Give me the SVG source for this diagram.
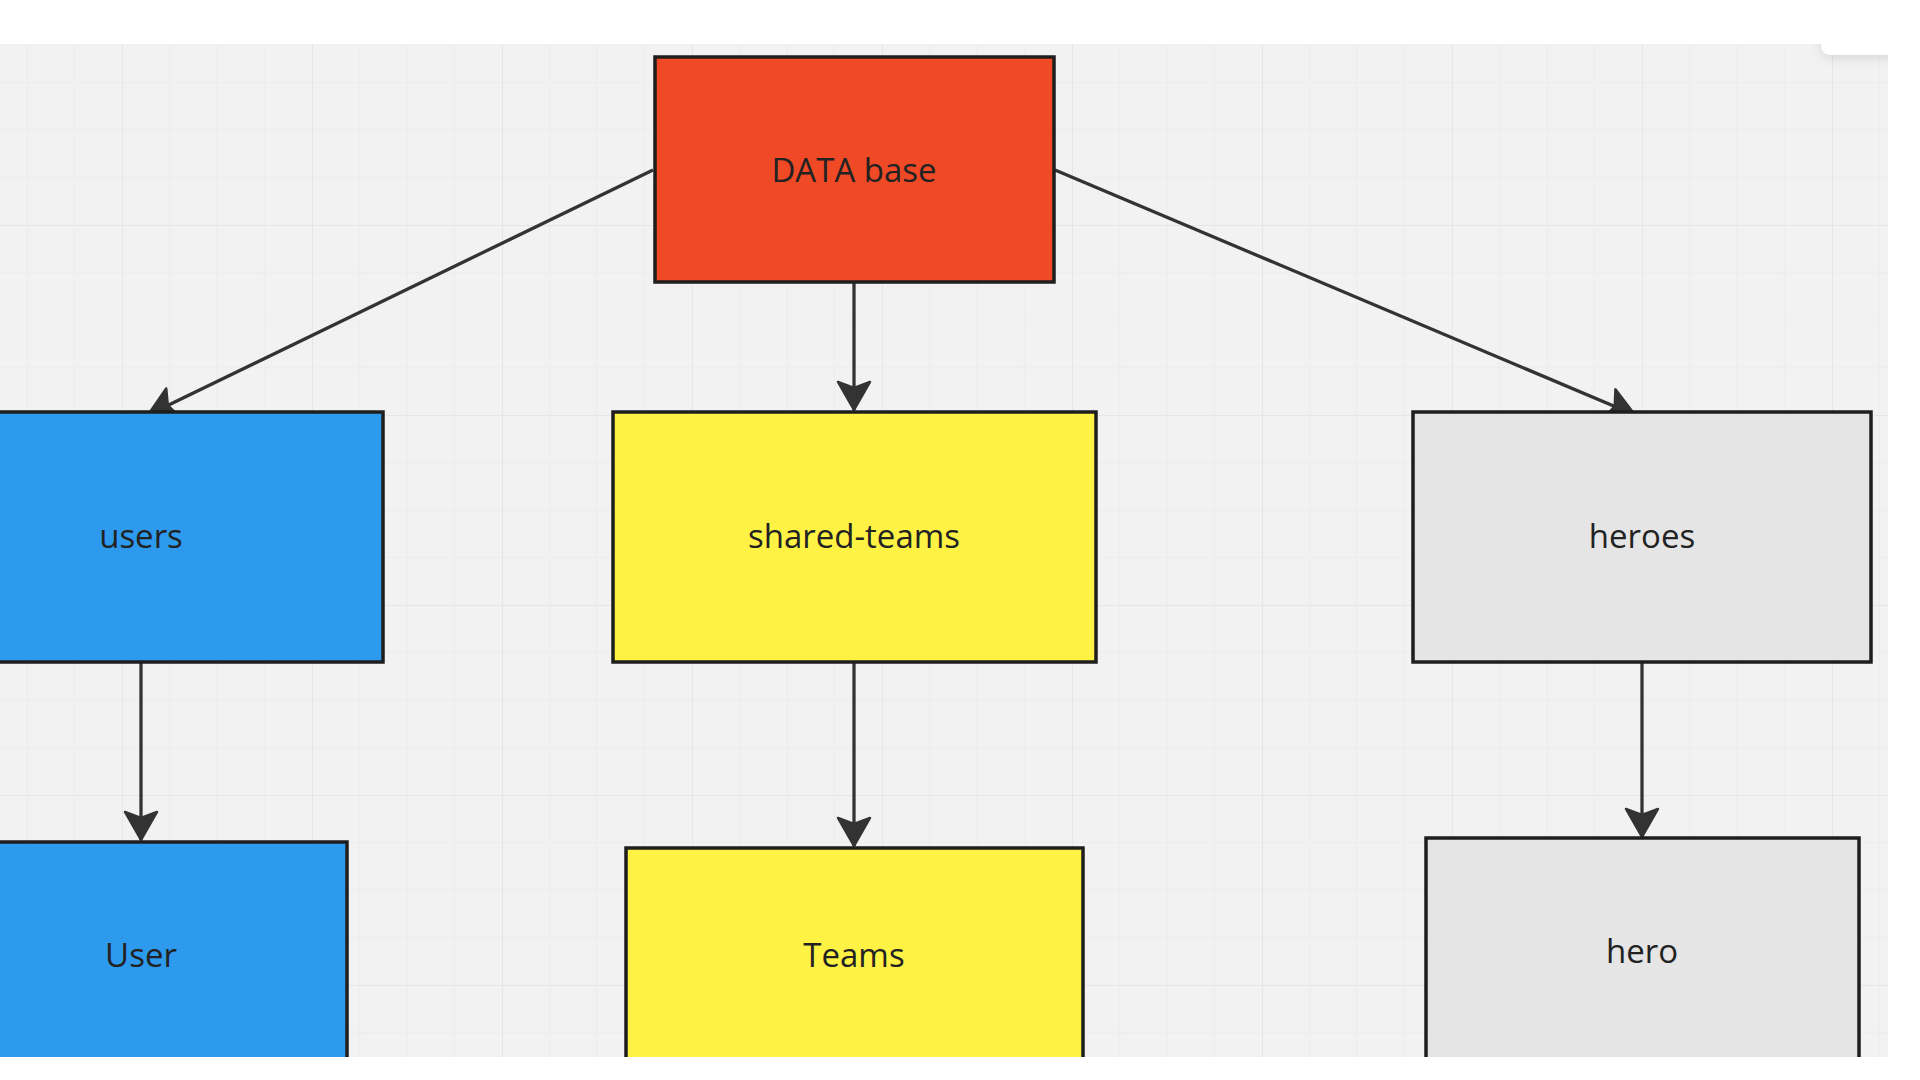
<svg xmlns="http://www.w3.org/2000/svg" width="1920" height="1080" viewBox="0 0 1920 1080">
  <style>
    .node { stroke: #1e1e1e; stroke-width: 3.5; }
    .red { fill: #f04926; }
    .blue { fill: #2d9aee; }
    .yellow { fill: #fef345; }
    .gray { fill: #e5e5e5; }
    .label { font-family: "Open Sans", "Noto Sans", "Liberation Sans", sans-serif; font-size: 33px; fill: #222222; text-anchor: middle; }
    .edge { stroke: #333333; stroke-width: 3.3; fill: none; marker-end: url(#arrow); }
  </style>
  <defs>
    <pattern id="grid" patternUnits="userSpaceOnUse" x="122" y="35" width="190" height="190">
      <rect width="190" height="190" fill="#f2f2f2"/>
      <path d="M47.5,0 V190 M95,0 V190 M142.5,0 V190 M0,47.5 H190 M0,95 H190 M0,142.5 H190" stroke="#eeeeee" stroke-width="1.5" fill="none"/>
      <path d="M0,0 V190 M0,0 H190" stroke="#e6e6e6" stroke-width="2" fill="none"/>
    </pattern>
    <marker id="arrow" markerUnits="userSpaceOnUse" markerWidth="32" markerHeight="38" refX="30" refY="19" orient="auto" viewBox="0 0 32 38">
      <path d="M30,19 L2,3 L8,19 L2,35 Z" fill="#333333" stroke="#333333" stroke-width="2.5" stroke-linejoin="round"/>
    </marker>
    <clipPath id="canvas">
      <rect x="0" y="44" width="1888" height="1013"/>
    </clipPath>
    <filter id="shadow" x="-50%" y="-50%" width="200%" height="200%">
      <feGaussianBlur in="SourceAlpha" stdDeviation="6"/>
      <feOffset dx="0" dy="3" result="b"/>
      <feComponentTransfer><feFuncA type="linear" slope="0.12"/></feComponentTransfer>
      <feMerge><feMergeNode/><feMergeNode in="SourceGraphic"/></feMerge>
    </filter>
  </defs>

  <rect width="1920" height="1080" fill="#ffffff"/>

  <g clip-path="url(#canvas)">
    <rect x="0" y="44" width="1888" height="1013" fill="url(#grid)"/>

    <g id="connectors">
      <line class="edge" x1="653" y1="170" x2="148" y2="415"/>
      <line class="edge" x1="854" y1="283" x2="854" y2="410"/>
      <line class="edge" x1="1055" y1="170" x2="1635" y2="415"/>
      <line class="edge" x1="141" y1="662" x2="141" y2="840"/>
      <line class="edge" x1="854" y1="662" x2="854" y2="846"/>
      <line class="edge" x1="1642" y1="662" x2="1642" y2="837"/>
    </g>

    <g id="node-database">
      <rect class="node red" x="655" y="57" width="399" height="225"/>
      <text class="label" x="854" y="182">DATA base</text>
    </g>
    <g id="node-users">
      <rect class="node blue" x="-100" y="412" width="483" height="250"/>
      <text class="label" x="141" y="548">users</text>
    </g>
    <g id="node-shared-teams">
      <rect class="node yellow" x="613" y="412" width="483" height="250"/>
      <text class="label" x="854" y="548">shared-teams</text>
    </g>
    <g id="node-heroes">
      <rect class="node gray" x="1413" y="412" width="458" height="250"/>
      <text class="label" x="1642" y="548">heroes</text>
    </g>
    <g id="node-user">
      <rect class="node blue" x="-100" y="842" width="447" height="300"/>
      <text class="label" x="141" y="967">User</text>
    </g>
    <g id="node-teams">
      <rect class="node yellow" x="626" y="848" width="457" height="300"/>
      <text class="label" x="854" y="967">Teams</text>
    </g>
    <g id="node-hero">
      <rect class="node gray" x="1426" y="838" width="433" height="300"/>
      <text class="label" x="1642" y="963">hero</text>
    </g>

    <rect x="1821" y="10" width="80" height="45" rx="9" fill="#ffffff" filter="url(#shadow)"/>
  </g>

  <rect x="1888" y="0" width="32" height="1080" fill="#ffffff"/>
</svg>
